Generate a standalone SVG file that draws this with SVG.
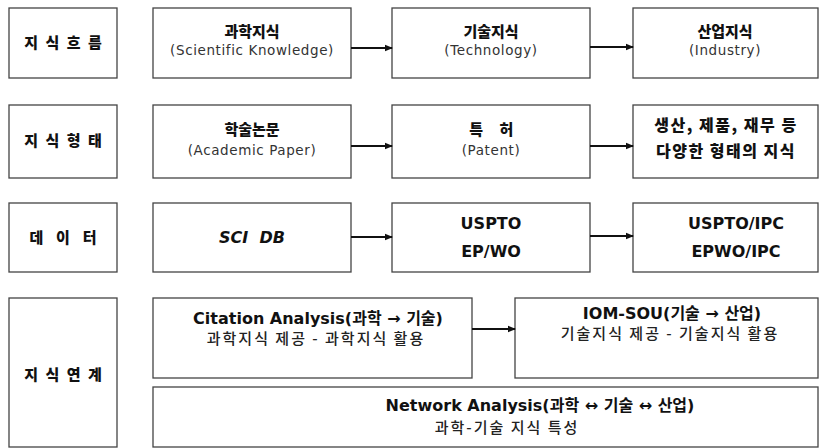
<svg xmlns="http://www.w3.org/2000/svg" width="821" height="448" viewBox="0 0 821 448">
<defs>
<marker id="ah" markerWidth="8" markerHeight="8" refX="7" refY="4" orient="auto" markerUnits="userSpaceOnUse">
<path d="M0,0.8 L8,4 L0,7.2 Z" fill="#111"/>
</marker>
<style>
.box{fill:#fff;stroke:#444;stroke-width:1.3}
.lab{font-family:"Noto Sans CJK KR","Noto Sans",sans-serif;font-weight:900;font-size:15px;fill:#111;text-anchor:middle;letter-spacing:2px}
.kt{font-family:"Noto Sans CJK KR","Noto Sans",sans-serif;font-weight:900;font-size:15px;fill:#111;text-anchor:middle}
.en{font-family:"DejaVu Sans","Noto Sans CJK KR",sans-serif;font-size:13.5px;fill:#333;text-anchor:middle;letter-spacing:0.6px}
.eb{font-family:"DejaVu Sans","Noto Sans CJK KR",sans-serif;font-weight:bold;font-size:16px;fill:#111;text-anchor:middle}
.kn{font-family:"Noto Sans CJK KR",sans-serif;font-weight:500;font-size:15px;fill:#222;text-anchor:middle;letter-spacing:2px}
.conn line{stroke:#111;stroke-width:2;marker-end:url(#ah)}
</style>
</defs>
<rect width="821" height="448" fill="#fff"/>

<g id="flow-label"><rect class="box" x="9" y="8" width="108" height="70"/><text class="lab" x="64" y="48">지 식 흐 름</text></g>
<g id="science"><rect class="box" x="153" y="8" width="198" height="70"/><text class="kt" x="252" y="37">과학지식</text><text class="en" x="252" y="55">(Scientific Knowledge)</text></g>
<g id="technology"><rect class="box" x="392" y="8" width="198" height="70"/><text class="kt" x="491" y="37">기술지식</text><text class="en" x="491" y="55">(Technology)</text></g>
<g id="industry"><rect class="box" x="633" y="8" width="185" height="70"/><text class="kt" x="725" y="37">산업지식</text><text class="en" x="725" y="55">(Industry)</text></g>

<g id="form-label"><rect class="box" x="9" y="105" width="108" height="73"/><text class="lab" x="64" y="146">지 식 형 태</text></g>
<g id="paper"><rect class="box" x="153" y="105" width="198" height="73"/><text class="kt" x="252" y="135">학술논문</text><text class="en" x="252" y="155">(Academic Paper)</text></g>
<g id="patent"><rect class="box" x="392" y="105" width="198" height="73"/><text class="kt" x="492" y="135" letter-spacing="1.5">특&#160;&#160;&#160;허</text><text class="en" x="491" y="155">(Patent)</text></g>
<g id="various"><rect class="box" x="633" y="105" width="185" height="73"/><text class="kt" x="726" y="131" style="font-size:16px" letter-spacing="1.5">생산, 제품, 재무 등</text><text class="kt" x="726" y="157" style="font-size:16px" letter-spacing="1.5">다양한 형태의 지식</text></g>

<g id="data-label"><rect class="box" x="9" y="203" width="108" height="69"/><text class="lab" x="64" y="243">데&#160;&#160;이&#160;&#160;터</text></g>
<g id="scidb"><rect class="box" x="153" y="203" width="198" height="69"/><text class="eb" x="252" y="243" font-style="italic">SCI&#160;&#160;DB</text></g>
<g id="uspto"><rect class="box" x="392" y="203" width="198" height="69"/><text class="eb" x="491" y="229">USPTO</text><text class="eb" x="491" y="257">EP/WO</text></g>
<g id="ipc"><rect class="box" x="633" y="203" width="185" height="69"/><text class="eb" x="736" y="229">USPTO/IPC</text><text class="eb" x="736" y="257">EPWO/IPC</text></g>

<g id="link-label"><rect class="box" x="9" y="298" width="108" height="149"/><text class="lab" x="64" y="380">지 식 연 계</text></g>
<g id="citation"><rect class="box" x="153" y="298" width="319" height="80"/><text class="eb" x="318" y="324">Citation Analysis(과학 → 기술)</text><text class="kn" x="316" y="344">과학지식 제공 - 과학지식 활용</text></g>
<g id="iomsou"><rect class="box" x="515" y="298" width="303" height="80"/><text class="eb" x="672" y="319">IOM-SOU(기술 → 산업)</text><text class="kn" x="670" y="339">기술지식 제공 - 기술지식 활용</text></g>
<g id="network"><rect class="box" x="153" y="387" width="665" height="60"/><text class="eb" x="540" y="411">Network Analysis(과학 ↔ 기술 ↔ 산업)</text><text class="kn" x="507" y="433" letter-spacing="1">과학-기술 지식 특성</text></g>

<g id="connectors" class="conn">
<line x1="351" y1="48" x2="392" y2="48"/>
<line x1="590" y1="47" x2="633" y2="47"/>
<line x1="351" y1="146" x2="392" y2="146"/>
<line x1="590" y1="146" x2="633" y2="146"/>
<line x1="351" y1="237" x2="392" y2="237"/>
<line x1="590" y1="236" x2="633" y2="236"/>
<line x1="472" y1="329" x2="515" y2="329"/>
</g>
</svg>
